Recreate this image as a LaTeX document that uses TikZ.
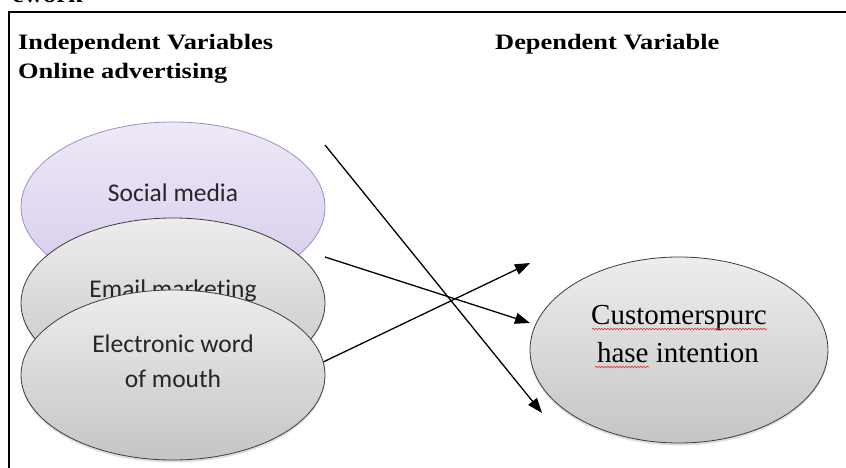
\documentclass[tikz,border=0pt]{standalone}
\usepackage{fontspec}
\setmainfont{Liberation Serif}
\newfontfamily\calibrifont[Ligatures=NoCommon]{Carlito}
\usetikzlibrary{arrows.meta,shapes.geometric,shadows,decorations.pathmorphing}

\definecolor{lavtop}{HTML}{EEE9F7}
\definecolor{lavbot}{HTML}{D6CAEC}
\definecolor{lavedge}{HTML}{A08CC6}
\definecolor{greytop}{HTML}{EDEDED}
\definecolor{greybot}{HTML}{C5C5C5}
\definecolor{greyedge}{HTML}{3C3C3C}
\definecolor{spellred}{HTML}{E03030}

\tikzset{
  oval/.style={ellipse, draw, line width=0.8pt, inner sep=0pt,
               minimum width=304pt, minimum height=170pt},
  lavoval/.style={oval, draw=lavedge, top color=lavtop, bottom color=lavbot},
  greyoval/.style={oval, draw=greyedge, top color=greytop, bottom color=greybot,
                   drop shadow={opacity=0.25, shadow xshift=0pt, shadow yshift=-2.5pt}},
  heading/.style={anchor=base west, inner sep=0pt,
                  font=\fontsize{22}{26}\selectfont\bfseries},
  ovaltext/.style={anchor=base, inner sep=0pt,
                   font=\calibrifont\fontsize{25.5}{30}\selectfont, text=black!85},
  serifovaltext/.style={anchor=base, inner sep=0pt,
                   font=\fontsize{29}{34}\selectfont},
  link/.style={line width=1.3pt, -{Triangle[length=15pt,width=11pt]}},
  frameline/.style={line width=1.5pt},
  squiggle/.style={draw=spellred, line width=0.6pt,
                   decorate, decoration={snake, amplitude=0.8pt, segment length=3pt}}
}

\newcommand{\widetext}[1]{\scalebox{1.2}[1]{#1}}

\begin{document}
\begin{tikzpicture}[x=1pt, y=-1pt]
  \clip (0,0) rectangle (846,468);
  \fill[white] (0,0) rectangle (846,468);

  % page heading cut off at the top edge
  \node[heading, anchor=base east] (ttl) at (83,3) {\widetext{ework}};

  % frame around the model
  \coordinate (fbl) at (9,470);
  \coordinate (ftl) at (9,12);
  \coordinate (ftr) at (848,12);
  \draw[frameline] (fbl) -- (ftl) -- (ftr);

  % column headings
  \node[heading] (iv)  at (18,50) {\widetext{Independent Variables}};
  \node[heading] (oa)  at (18,79) {\widetext{Online advertising}};
  \node[heading] (dv)  at (495,50) {\widetext{Dependent Variable}};

  % independent variables (stacked, each overlapping the one above)
  \node[lavoval] (sm) at (173,207) {};
  \node[ovaltext] (smt) at (173,201) {Social media};

  \node[greyoval] (em) at (173,303) {};
  \node[ovaltext] (emt) at (173,297) {Email marketing};

  \node[greyoval] (ew) at (173,375) {};
  \node[ovaltext] (ewt1) at (173,352) {Electronic word};
  \node[ovaltext] (ewt2) at (173,387) {of mouth};

  % dependent variable
  \node[greyoval, minimum width=298pt, minimum height=186pt] (cp) at (679,350) {};
  \node[serifovaltext] (cpt1) at (679,324) {Customerspurc};
  \node[serifovaltext] (cpt2) at (678,362) {hase intention};
  \coordinate (sq1a) at (592,329);
  \coordinate (sq1b) at (767,329);
  \coordinate (sq2a) at (595,367);
  \coordinate (sq2b) at (649,367);
  \draw[squiggle] (sq1a) -- (sq1b);
  \draw[squiggle] (sq2a) -- (sq2b);

  % arrows
  \coordinate (a1s) at (325,145);
  \coordinate (a1e) at (542,413);
  \coordinate (a2s) at (325,257);
  \coordinate (a2e) at (530,323);
  \coordinate (a3e) at (530,263);
  \draw[link] (a1s) -- (a1e);
  \draw[link] (a2s) -- (a2e);
  \draw[link] (ew.5) -- (a3e);
\end{tikzpicture}
\end{document}
